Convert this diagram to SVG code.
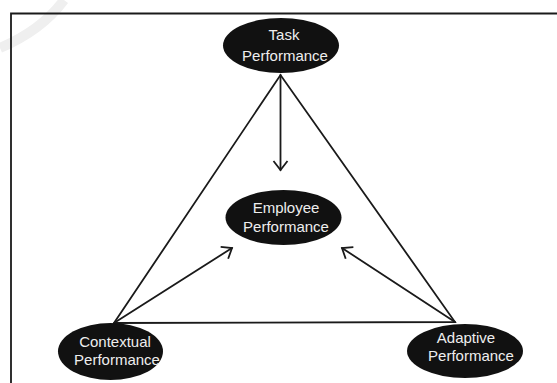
<svg xmlns="http://www.w3.org/2000/svg" width="557" height="383" viewBox="0 0 557 383">
<defs>
<style>
.node ellipse{fill:#111111;}
.node text{fill:#eeeeee;font-family:"Liberation Sans",Arial,sans-serif;font-size:15px;text-anchor:middle;}
.edge{stroke:#1a1a1a;stroke-width:1.8;fill:none;stroke-linecap:round;}
</style>
<marker id="open" markerUnits="userSpaceOnUse" markerWidth="24" markerHeight="24" refX="0" refY="0" viewBox="-12 -12 24 24" orient="auto" overflow="visible">
<path d="M -9 -7 L 0 0 L -9 7" fill="none" stroke="#1a1a1a" stroke-width="1.8" stroke-linejoin="miter"/>
</marker>
</defs>
<rect width="557" height="383" fill="#ffffff"/>
<path d="M 0 48 Q 42 30 64 0" fill="none" stroke="#efefef" stroke-width="10"/>
<path d="M 11 383 L 11 13.5 L 557 13.5" fill="none" stroke="#1a1a1a" stroke-width="1.8"/>
<g id="connectors">
<path class="edge" d="M 114 323 L 280.5 75 L 455 322 Z"/>
<line class="edge" x1="280.5" y1="75" x2="280.5" y2="170" marker-end="url(#open)"/>
<line class="edge" x1="114" y1="323" x2="232" y2="248" marker-end="url(#open)"/>
<line class="edge" x1="455" y1="322" x2="342" y2="248" marker-end="url(#open)"/>
</g>
<g id="task" class="node">
<ellipse cx="281" cy="45.5" rx="58" ry="27.5"/>
<text x="284" y="40">Task</text>
<text x="285" y="61">Performance</text>
</g>
<g id="employee" class="node">
<ellipse cx="283.5" cy="217.5" rx="58" ry="27.5"/>
<text x="286" y="213">Employee</text>
<text x="286" y="232">Performance</text>
</g>
<g id="contextual" class="node">
<ellipse cx="110.5" cy="351.5" rx="52.5" ry="28.5"/>
<text x="115" y="347">Contextual</text>
<text x="117" y="364.5">Performance</text>
</g>
<g id="adaptive" class="node">
<ellipse cx="465" cy="351" rx="58" ry="27"/>
<text x="466" y="343">Adaptive</text>
<text x="471" y="360.5">Performance</text>
</g>
</svg>
